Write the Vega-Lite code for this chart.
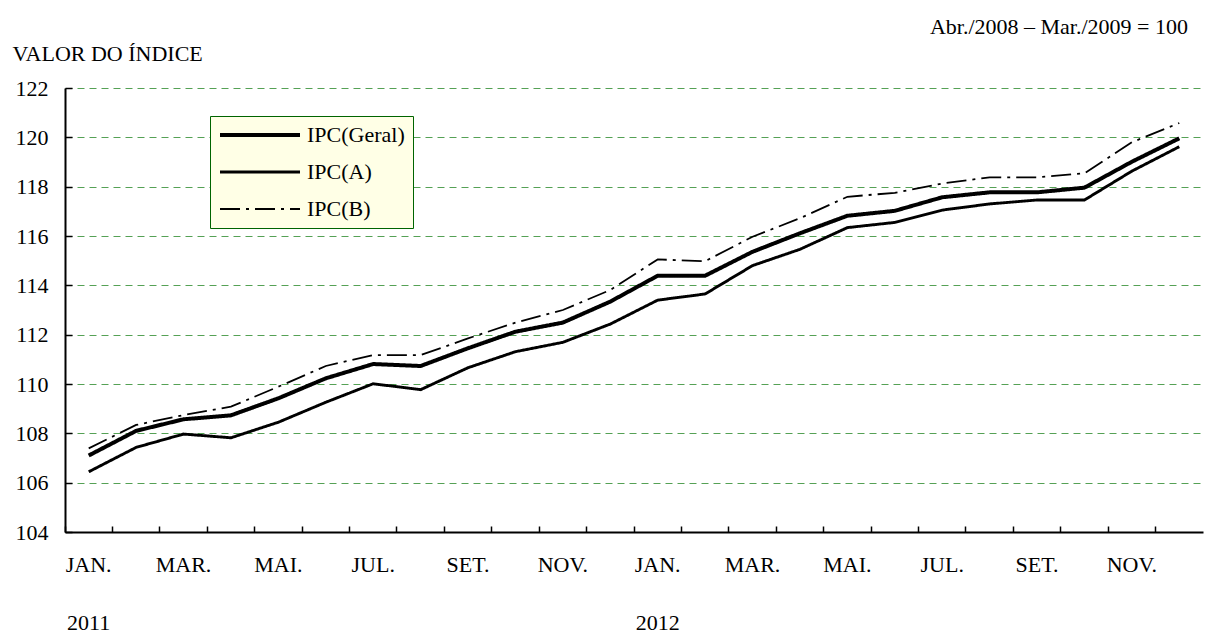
{
  "$schema": "https://vega.github.io/schema/vega-lite/v6.json",
  "width": 1138,
  "height": 444,
  "autosize": {"type": "none"},
  "padding": {"left": 65, "top": 88, "right": 6, "bottom": 105},
  "background": "white",
  "title": {
    "text": "Abr./2008 – Mar./2009 = 100",
    "anchor": "end",
    "orient": "top",
    "font": "Liberation Serif",
    "fontSize": 22,
    "fontWeight": "normal",
    "color": "black",
    "dx": -15,
    "dy": 3,
    "offset": 6
  },
  "config": {
    "view": {"stroke": null},
    "font": "Liberation Serif",
    "axis": {
      "labelFont": "Liberation Serif",
      "labelFontSize": 22,
      "labelColor": "black",
      "titleFont": "Liberation Serif",
      "titleFontSize": 22,
      "titleFontWeight": "normal",
      "titleColor": "black",
      "domainColor": "black",
      "domainWidth": 2,
      "tickColor": "black",
      "tickWidth": 1.5
    }
  },
  "data": {
    "values": [
      {"mes": "2011-01", "serie": "IPC(Geral)", "valor": 107.1},
      {"mes": "2011-02", "serie": "IPC(Geral)", "valor": 108.1},
      {"mes": "2011-03", "serie": "IPC(Geral)", "valor": 108.57},
      {"mes": "2011-04", "serie": "IPC(Geral)", "valor": 108.73},
      {"mes": "2011-05", "serie": "IPC(Geral)", "valor": 109.42},
      {"mes": "2011-06", "serie": "IPC(Geral)", "valor": 110.23},
      {"mes": "2011-07", "serie": "IPC(Geral)", "valor": 110.81},
      {"mes": "2011-08", "serie": "IPC(Geral)", "valor": 110.73},
      {"mes": "2011-09", "serie": "IPC(Geral)", "valor": 111.45},
      {"mes": "2011-10", "serie": "IPC(Geral)", "valor": 112.12},
      {"mes": "2011-11", "serie": "IPC(Geral)", "valor": 112.49},
      {"mes": "2011-12", "serie": "IPC(Geral)", "valor": 113.34},
      {"mes": "2012-01", "serie": "IPC(Geral)", "valor": 114.39},
      {"mes": "2012-02", "serie": "IPC(Geral)", "valor": 114.39},
      {"mes": "2012-03", "serie": "IPC(Geral)", "valor": 115.36},
      {"mes": "2012-04", "serie": "IPC(Geral)", "valor": 116.11},
      {"mes": "2012-05", "serie": "IPC(Geral)", "valor": 116.82},
      {"mes": "2012-06", "serie": "IPC(Geral)", "valor": 117.02},
      {"mes": "2012-07", "serie": "IPC(Geral)", "valor": 117.57},
      {"mes": "2012-08", "serie": "IPC(Geral)", "valor": 117.77},
      {"mes": "2012-09", "serie": "IPC(Geral)", "valor": 117.77},
      {"mes": "2012-10", "serie": "IPC(Geral)", "valor": 117.96},
      {"mes": "2012-11", "serie": "IPC(Geral)", "valor": 119.01},
      {"mes": "2012-12", "serie": "IPC(Geral)", "valor": 119.96},
      {"mes": "2011-01", "serie": "IPC(A)", "valor": 106.44},
      {"mes": "2011-02", "serie": "IPC(A)", "valor": 107.43},
      {"mes": "2011-03", "serie": "IPC(A)", "valor": 107.97},
      {"mes": "2011-04", "serie": "IPC(A)", "valor": 107.82},
      {"mes": "2011-05", "serie": "IPC(A)", "valor": 108.45},
      {"mes": "2011-06", "serie": "IPC(A)", "valor": 109.26},
      {"mes": "2011-07", "serie": "IPC(A)", "valor": 110.01},
      {"mes": "2011-08", "serie": "IPC(A)", "valor": 109.77},
      {"mes": "2011-09", "serie": "IPC(A)", "valor": 110.66},
      {"mes": "2011-10", "serie": "IPC(A)", "valor": 111.31},
      {"mes": "2011-11", "serie": "IPC(A)", "valor": 111.69},
      {"mes": "2011-12", "serie": "IPC(A)", "valor": 112.43},
      {"mes": "2012-01", "serie": "IPC(A)", "valor": 113.4},
      {"mes": "2012-02", "serie": "IPC(A)", "valor": 113.65},
      {"mes": "2012-03", "serie": "IPC(A)", "valor": 114.8},
      {"mes": "2012-04", "serie": "IPC(A)", "valor": 115.46},
      {"mes": "2012-05", "serie": "IPC(A)", "valor": 116.34},
      {"mes": "2012-06", "serie": "IPC(A)", "valor": 116.55},
      {"mes": "2012-07", "serie": "IPC(A)", "valor": 117.05},
      {"mes": "2012-08", "serie": "IPC(A)", "valor": 117.3},
      {"mes": "2012-09", "serie": "IPC(A)", "valor": 117.46},
      {"mes": "2012-10", "serie": "IPC(A)", "valor": 117.46},
      {"mes": "2012-11", "serie": "IPC(A)", "valor": 118.63},
      {"mes": "2012-12", "serie": "IPC(A)", "valor": 119.62},
      {"mes": "2011-01", "serie": "IPC(B)", "valor": 107.39},
      {"mes": "2011-02", "serie": "IPC(B)", "valor": 108.34},
      {"mes": "2011-03", "serie": "IPC(B)", "valor": 108.74},
      {"mes": "2011-04", "serie": "IPC(B)", "valor": 109.08},
      {"mes": "2011-05", "serie": "IPC(B)", "valor": 109.89},
      {"mes": "2011-06", "serie": "IPC(B)", "valor": 110.73},
      {"mes": "2011-07", "serie": "IPC(B)", "valor": 111.17},
      {"mes": "2011-08", "serie": "IPC(B)", "valor": 111.17},
      {"mes": "2011-09", "serie": "IPC(B)", "valor": 111.85},
      {"mes": "2011-10", "serie": "IPC(B)", "valor": 112.49},
      {"mes": "2011-11", "serie": "IPC(B)", "valor": 113.0},
      {"mes": "2011-12", "serie": "IPC(B)", "valor": 113.81},
      {"mes": "2012-01", "serie": "IPC(B)", "valor": 115.05},
      {"mes": "2012-02", "serie": "IPC(B)", "valor": 114.98},
      {"mes": "2012-03", "serie": "IPC(B)", "valor": 115.97},
      {"mes": "2012-04", "serie": "IPC(B)", "valor": 116.72},
      {"mes": "2012-05", "serie": "IPC(B)", "valor": 117.59},
      {"mes": "2012-06", "serie": "IPC(B)", "valor": 117.75},
      {"mes": "2012-07", "serie": "IPC(B)", "valor": 118.13},
      {"mes": "2012-08", "serie": "IPC(B)", "valor": 118.38},
      {"mes": "2012-09", "serie": "IPC(B)", "valor": 118.38},
      {"mes": "2012-10", "serie": "IPC(B)", "valor": 118.54},
      {"mes": "2012-11", "serie": "IPC(B)", "valor": 119.8},
      {"mes": "2012-12", "serie": "IPC(B)", "valor": 120.58}
    ]
  },
  "mark": {"type": "line", "strokeJoin": "miter", "strokeCap": "butt"},
  "encoding": {
    "x": {
      "field": "mes",
      "type": "ordinal",
      "sort": null,
      "scale": {"type": "band", "paddingInner": 0, "paddingOuter": 0},
      "axis": {
        "title": null,
        "bandPosition": 0,
        "labelAngle": 0,
        "labelAlign": "center",
        "labelBaseline": "top",
        "labelLineHeight": 58,
        "labelPadding": 28,
        "tickSize": -6,
        "grid": false,
        "labelExpr": "slice(datum.value,5)=='01' ? ['JAN.',slice(datum.value,0,4)] : ['','','MAR.','','MAI.','','JUL.','','SET.','','NOV.',''][toNumber(slice(datum.value,5))-1]"
      }
    },
    "y": {
      "field": "valor",
      "type": "quantitative",
      "scale": {"domain": [104, 122], "nice": false, "zero": false},
      "axis": {
        "values": [104, 106, 108, 110, 112, 114, 116, 118, 120, 122],
        "title": "VALOR DO ÍNDICE",
        "titleAngle": 0,
        "titleAlign": "left",
        "titleBaseline": "alphabetic",
        "titleX": -53,
        "titleY": -28,
        "tickSize": -7,
        "labelPadding": 24,
        "grid": true,
        "gridColor": "#2a8a2a",
        "gridOpacity": 0.8,
        "gridDash": [7, 5],
        "gridWidth": 1.2
      }
    },
    "color": {
      "field": "serie",
      "type": "nominal",
      "scale": {"domain": ["IPC(Geral)", "IPC(A)", "IPC(B)"], "range": ["black", "black", "black"]},
      "legend": {
        "title": null,
        "orient": "none",
        "legendX": 145,
        "legendY": 28,
        "fillColor": "#ffffe6",
        "strokeColor": "#006400",
        "padding": 8,
        "symbolType": "stroke",
        "symbolSize": 6400,
        "clipHeight": 22,
        "rowPadding": 15,
        "labelOffset": 5,
        "labelFont": "Liberation Serif",
        "labelFontSize": 22,
        "labelColor": "black",
        "labelLimit": 300
      }
    },
    "strokeWidth": {
      "field": "serie",
      "type": "nominal",
      "scale": {"domain": ["IPC(Geral)", "IPC(A)", "IPC(B)"], "range": [4, 1.8, 2.4]},
      "legend": null
    },
    "strokeDash": {
      "field": "serie",
      "type": "nominal",
      "scale": {"domain": ["IPC(Geral)", "IPC(A)", "IPC(B)"], "range": [[1, 0], [1, 0], [20, 6, 3, 6]]},
      "legend": null
    }
  }
}
